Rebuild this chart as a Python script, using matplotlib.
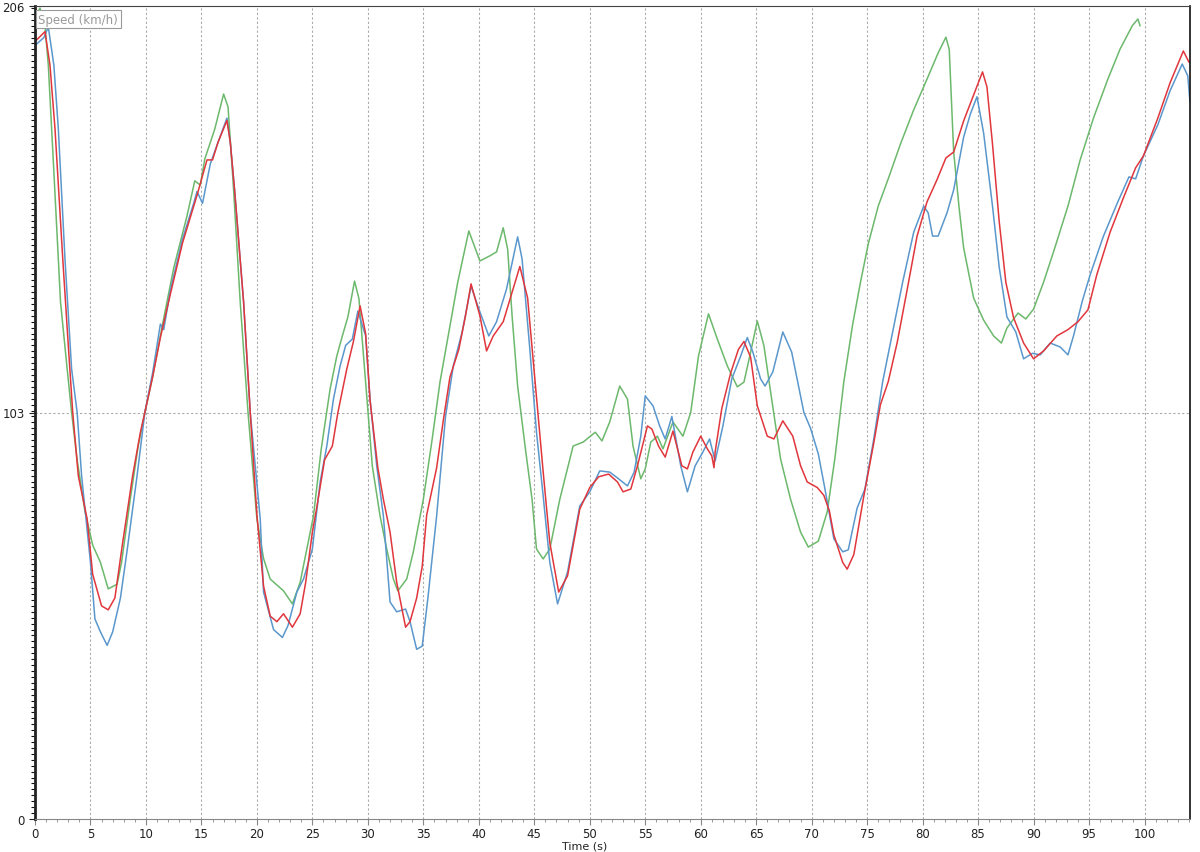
import numpy as np
import matplotlib
matplotlib.use("Agg")
import matplotlib.pyplot as plt
from matplotlib.ticker import MultipleLocator

# Speed traces (time in s, speed in km/h)
red_t = [0, 0.9, 1.35, 1.8, 2.5, 3.0, 3.4, 3.9, 4.7, 5.2, 6.0, 6.6, 7.2, 7.9, 8.8, 9.5, 9.9,
         10.6, 11.3, 12.2, 13.3, 14.6, 15.5, 16.0, 16.5, 17.3, 17.6, 18.0, 18.8, 19.4, 20.0,
         20.6, 21.2, 21.8, 22.4, 23.2, 23.9, 24.4, 25.0, 25.4, 26.1, 26.8, 27.3, 28.1, 28.7,
         29.3, 29.8, 30.2, 30.9, 31.4, 32.0, 32.6, 33.4, 33.8, 34.4, 34.9, 35.3, 36.2, 36.8,
         37.4, 38.2, 38.8, 39.3, 40.1, 40.7, 41.3, 42.2, 43.0, 43.7, 44.4, 45.1, 45.8, 46.4,
         47.2, 48.0, 49.1, 50.0, 50.8, 51.7, 52.5, 53.0, 53.7, 54.3, 55.2, 55.6, 56.2, 56.8,
         57.5, 58.3, 58.8, 59.3, 60.0, 60.6, 61.0, 61.2, 61.3, 61.9, 62.7, 63.4, 63.9, 64.5,
         65.1, 66.0, 66.6, 67.4, 68.3, 69.0, 69.6, 70.5, 71.1, 71.6, 72.0, 72.8, 73.2, 73.8,
         74.7, 75.6, 76.2, 76.9, 77.7, 78.6, 79.5, 80.4, 81.3, 82.1, 82.8, 83.7, 84.6, 85.4,
         85.8, 86.3, 86.9, 87.5, 88.2, 89.1, 90.0, 90.9, 92.1, 93.1, 94.0, 94.9, 95.7, 96.9,
         98.1, 99.2, 99.9, 101.2, 102.3, 103.5, 104.0]
red_v = [197, 199.5, 191, 175, 142, 120, 103, 87, 76, 62, 54, 53, 56, 70, 87, 98, 103,
         112, 122, 133, 146, 158, 167, 167, 171.5, 177, 171.5, 159, 131, 103, 77,
         59, 51.4, 50, 52, 48.6, 52, 60, 72.7, 79, 91, 94.5, 103, 114, 121,
         130, 123, 106, 89, 81, 72.7, 60, 48.6, 50, 56, 64, 77, 89, 101,
         112, 119, 127.5, 135.6, 127.5, 118.6, 122.4, 126, 133.5, 140, 132, 110, 88, 70,
         57.5, 61.6, 78.5, 84, 86.7, 87.4, 85.4, 82.9, 83.6, 89.5, 99.6, 98.8, 94.5, 91.7,
         98.3, 89.5, 88.7, 93, 97, 93.8, 92, 89, 93, 104, 113, 119, 121, 117,
         104.7, 97, 96.3, 100.9, 97, 89.5, 85.4, 84, 82, 78, 72, 65, 63.3, 67,
         81.8, 95.3, 105, 110.8, 120.6, 134, 147.7, 156.4, 162, 167.5, 169, 176.9, 183.5, 189.3,
         185.5, 171, 151.5, 136, 127, 120.6, 116.6, 118.6, 122.4, 124, 126, 129, 137.9, 148.7,
         157.4, 165, 168, 177.6, 186.5, 194.6, 191.8]

blue_t = [0, 0.8, 1.2, 1.7, 2.1, 2.7, 3.3, 3.8, 4.2, 5.0, 5.4, 5.9, 6.5, 7.0, 7.7, 8.3, 9.2,
          9.9, 10.6, 11.3, 11.6, 12.2, 13.3, 14.3, 14.6, 15.1, 15.8, 16.5, 17.3, 17.6, 18.0,
          18.8, 19.4, 20.3, 20.6, 21.5, 22.3, 22.8, 23.6, 24.2, 25.0, 25.7, 26.3, 26.9, 27.5,
          28.0, 28.6, 29.1, 29.8, 30.2, 30.8, 31.4, 32.0, 32.6, 33.4, 33.8, 34.4, 34.9, 35.4,
          36.2, 37.0, 37.7, 38.5, 39.3, 40.1, 40.9, 41.6, 42.5, 43.5, 43.9, 44.6, 45.2, 45.8,
          46.4, 47.1, 48.0, 49.1, 50.0, 50.9, 51.8, 52.6, 53.4, 54.0, 54.6, 55.0, 55.7, 56.3,
          56.8, 57.4, 58.2, 58.8, 59.5, 60.2, 60.8, 61.3, 62.0, 62.8, 63.6, 64.2, 64.7, 65.4,
          65.8, 66.5, 67.4, 68.2, 69.3, 69.9, 70.6, 71.2, 72.0, 72.8, 73.3, 74.1, 74.8, 75.6,
          76.4, 77.3, 78.2, 79.2, 80.1, 80.5, 80.9, 81.4, 82.2, 82.8, 83.7, 84.3, 84.9, 85.5,
          86.3, 86.9, 87.6, 88.4, 89.1, 89.9, 90.6, 91.5, 92.4, 93.1, 93.6, 94.4, 95.1, 96.3,
          97.6, 98.6, 99.2, 99.9, 101.2, 102.3, 103.4, 103.9, 104.1]
blue_v = [196, 198, 200.7, 191, 175, 142, 114, 103, 87, 65, 50.7, 47.4, 44, 47.4, 56, 68, 87,
          103, 113, 125.4, 124, 134, 147, 156, 159, 156, 166, 171.5, 177.6, 171.5, 159,
          131, 103, 76, 57.5, 48, 46, 49, 57.5, 60.8, 68.4, 85.4, 94.5, 106.4, 114.8,
          120, 121.6, 128.7, 122.4, 106.4, 89.5, 76.8, 55, 52.5, 53.2, 50, 43, 43.8, 55.7,
          76.8, 102, 114.8, 123.4, 135, 128.5, 122.4, 126, 134.3, 147.5, 141.9, 119, 98, 81.9,
          65, 54.5, 62.6, 79.3, 82.9, 88.2, 87.9, 86.2, 84.4, 87.9, 97, 107.2, 104.7, 99.6,
          96.3, 102, 89.5, 82.9, 89.5, 93, 96.3, 90.7, 99.6, 111.5, 117.3, 122, 118.3, 111.5,
          109.7, 113.3, 123.4, 118.3, 103, 99, 92.5, 83.6, 71, 67.7, 68.2, 78.8, 83.6, 96.3,
          110.8, 123.4, 136, 148.7, 155.3, 153.6, 147.7, 147.7, 153.6, 159.4, 172.8, 178.6, 183, 173.8,
          155.3, 139.9, 127.2, 123.4, 116.6, 118, 117.6, 120.6, 119.6, 117.6, 122.4, 131.3, 137.9, 147.7,
          156.4, 162.7, 162.2, 168, 175.9, 184.5, 191.3, 188.3, 181.7]

green_t = [0, 0.45, 0.9, 1.2, 1.7, 2.3, 2.9, 3.3, 3.8, 4.5, 5.2, 5.9, 6.6, 7.4, 7.8, 8.6,
           9.3, 9.9, 10.6, 11.5, 12.5, 13.7, 14.4, 14.9, 15.3, 16.2, 17.0, 17.4, 17.9, 18.5,
           19.2, 20.0, 20.6, 21.2, 22.4, 23.2, 23.9, 24.5, 25.1, 25.8, 26.6, 27.2, 27.7, 28.2,
           28.8, 29.2, 29.8, 30.4, 31.1, 31.7, 32.3, 32.7, 33.5, 34.1, 35.0, 35.8, 36.5, 37.4,
           38.1, 39.1, 40.1, 41.0, 41.6, 42.2, 42.6, 43.0, 43.5, 44.2, 44.8, 45.2, 45.8, 46.4,
           47.3, 48.5, 49.4, 50.5, 51.1, 51.8, 52.7, 53.4, 53.9, 54.6, 55.0, 55.5, 56.1, 56.6,
           57.5, 58.4, 59.1, 59.8, 60.7, 61.5, 62.4, 63.3, 63.9, 64.5, 65.1, 65.7, 66.3, 67.2,
           68.1, 69.0, 69.7, 70.6, 71.4, 72.1, 72.9, 73.7, 74.4, 75.1, 76.0, 76.9, 78.0, 79.2,
           80.4, 81.4, 82.1, 82.4, 82.8, 83.3, 83.7, 84.6, 85.5, 86.4, 87.1, 87.6, 88.6, 89.3,
           90.0, 90.9, 91.8, 93.1, 94.2, 95.4, 96.7, 97.8, 98.9, 99.4, 99.6]
green_v = [203, 205.5, 201, 191, 164, 131, 114, 103, 91, 78, 69.4, 65, 58.3, 59.5, 65, 81.3,
           94.5, 103, 112, 125.4, 139.6, 152.8, 161.7, 160.6, 167.2, 174.8, 183.7, 180.4, 159.4, 130.8,
           103, 76, 66, 60.8, 57.8, 54.5, 60, 68.4, 76.8, 93.8, 109, 117.3, 122.4, 127.2,
           136.3, 131.8, 110.7, 89.5, 76.8, 68.4, 60.8, 57.8, 60.8, 67.7, 81, 96.3, 110.7, 125,
           136, 149, 141.4, 142.7, 143.7, 149.8, 144.4, 127.5, 109.7, 93.8, 81, 68.4, 65.9, 68.4,
           81, 94.5, 95.5, 98, 95.8, 100.6, 109.7, 106.4, 94.5, 86.2, 88.7, 95.5, 97, 93.8,
           100.6, 97, 103, 117.3, 128, 121.6, 114.8, 109.5, 110.7, 118.3, 126.2, 119.9, 108.2, 91.2,
           81, 72.7, 68.9, 70.4, 77.8, 91.5, 110.8, 125.4, 136, 145.7, 155.3, 162.2, 171, 179.7,
           187.5, 194.1, 198.1, 195, 169, 154.6, 144.7, 132, 126.4, 122.4, 120.6, 124.4, 128.2, 126.7,
           129.2, 136, 143.7, 155.3, 167, 177.6, 187.5, 195.1, 201, 202.7, 201]

x_max = 104.1
y_max = 206
y_ticks = [0, 103, 206]
x_ticks = list(range(0, 105, 5))

fig = plt.figure(figsize=(12, 8.53), dpi=100)
ax = fig.add_axes([35 / 1200, 1 - 820 / 853, 1155 / 1200, 813 / 853])

ax.plot(green_t, green_v, color="#6cb86c", lw=1.1)
ax.plot(blue_t, blue_v, color="#5a97cc", lw=1.1)
ax.plot(red_t, red_v, color="#e0363c", lw=1.1)

ax.set_xlim(0, x_max)
ax.set_ylim(0, y_max)
ax.set_xticks(x_ticks)
ax.set_yticks(y_ticks)
ax.xaxis.set_minor_locator(MultipleLocator(1))
ax.yaxis.set_minor_locator(MultipleLocator(1.5))
ax.tick_params(axis="both", labelsize=8.5, colors="#222222", length=4, width=0.8)
ax.tick_params(axis="x", which="major", color="#888888", pad=2)
ax.tick_params(axis="x", which="minor", length=2.5, width=0.6, color="#888888")
ax.tick_params(axis="y", which="minor", length=3, width=0.8, color="#111111")

for x in x_ticks[1:]:
    ax.axvline(x, color="#aaaaaa", lw=0.8, ls=(0, (2, 2)), zorder=0)
ax.axhline(103, color="#aaaaaa", lw=0.8, ls=(0, (2, 2)), zorder=0)

ax.spines["left"].set_linewidth(2.0)
ax.spines["left"].set_color("#222222")
ax.spines["bottom"].set_color("#888888")
ax.spines["top"].set_color("#444444")
ax.spines["right"].set_color("#111111")
ax.spines["right"].set_linewidth(1.2)

ax.text(0.003, 0.992, "Speed (km/h)", transform=ax.transAxes, ha="left", va="top",
        fontsize=8.5, color="#9a9a9a",
        bbox=dict(boxstyle="square,pad=0.2", fc="white", ec="#9a9a9a", lw=0.8))

fig.text(585 / 1200, 1 - 846.5 / 853, "Time (s)", ha="center", va="center",
         fontsize=8, color="#222222")

fig.savefig("out.png", dpi=100)
